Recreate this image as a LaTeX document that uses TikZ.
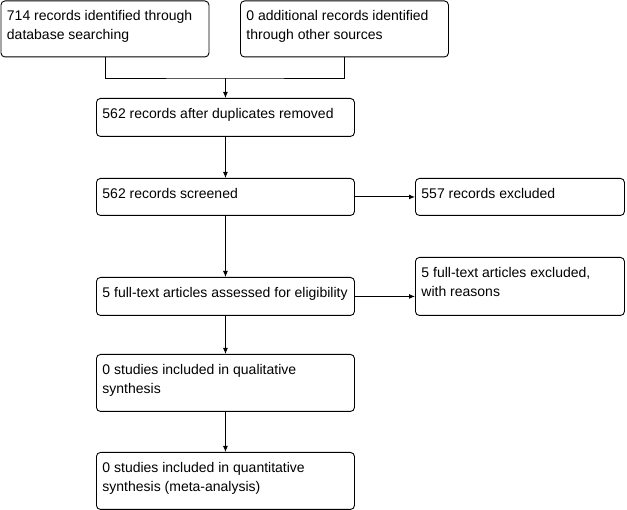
\documentclass[tikz,border=0pt]{standalone}
\usepackage{fontspec}
\setmainfont{Liberation Sans}
\usetikzlibrary{arrows.meta,positioning,calc}
\tikzset{
  flowBox/.style={
    rectangle, rounded corners=4pt, draw=black, line width=0.9pt,
    anchor=north west, inner xsep=6pt, inner ysep=0pt,
    font=\fontsize{14}{19}\selectfont
  },
  flowArrow/.style={-{Latex[length=6pt,width=5pt]}, line width=0.9pt, color=black}
}
% text set at the top left of a box of fixed size
\newcommand{\boxtext}[3]{\parbox[t][#2][t]{#1}{\raggedright\rule{0pt}{20pt}#3}}

\begin{document}
\begin{tikzpicture}[x=1pt, y=-1pt]
    \useasboundingbox (0,0) rectangle (627,510);

    % identification
    \node[flowBox] (ident) at (0.5,0.5) {\boxtext{196pt}{56pt}{714 records identified through\\database searching}};
    \node[flowBox] (other) at (240,0.5) {\boxtext{196pt}{56pt}{0 additional records identified\\through other sources}};

    % screening
    \node[flowBox] (dupl) at (96,98) {\boxtext{246pt}{38pt}{562 records after duplicates removed}};
    \node[flowBox] (screen) at (96,178) {\boxtext{246pt}{37pt}{562 records screened}};
    \node[flowBox] (excl) at (415,178) {\boxtext{197pt}{37pt}{557 records excluded}};

    % eligibility
    \node[flowBox] (fulltext) at (96,277) {\boxtext{246pt}{38pt}{5 full-text articles assessed for eligibility}};
    \node[flowBox] (ftexcl) at (415,257) {\boxtext{197pt}{58pt}{5 full-text articles excluded,\\with reasons}};

    % included
    \node[flowBox] (qual) at (96,354) {\boxtext{246pt}{57pt}{0 studies included in qualitative\\synthesis}};
    \node[flowBox] (quant) at (96,452) {\boxtext{246pt}{57pt}{0 studies included in quantitative\\synthesis (meta-analysis)}};

    \coordinate (merge) at (dupl.north |- 0,78);
    \draw[line width=0.9pt] (ident.south) |- (merge) -| (other.south);
    \draw[flowArrow] (merge) -- (dupl.north);
    \draw[flowArrow] (dupl.south) -- (screen.north);
    \draw[flowArrow] (screen.east) -- (screen.east -| excl.west);
    \draw[flowArrow] (screen.south) -- (fulltext.north);
    \draw[flowArrow] (fulltext.east) -- (fulltext.east -| ftexcl.west);
    \draw[flowArrow] (fulltext.south) -- (qual.north);
    \draw[flowArrow] (qual.south) -- (quant.north);
\end{tikzpicture}
\end{document}
